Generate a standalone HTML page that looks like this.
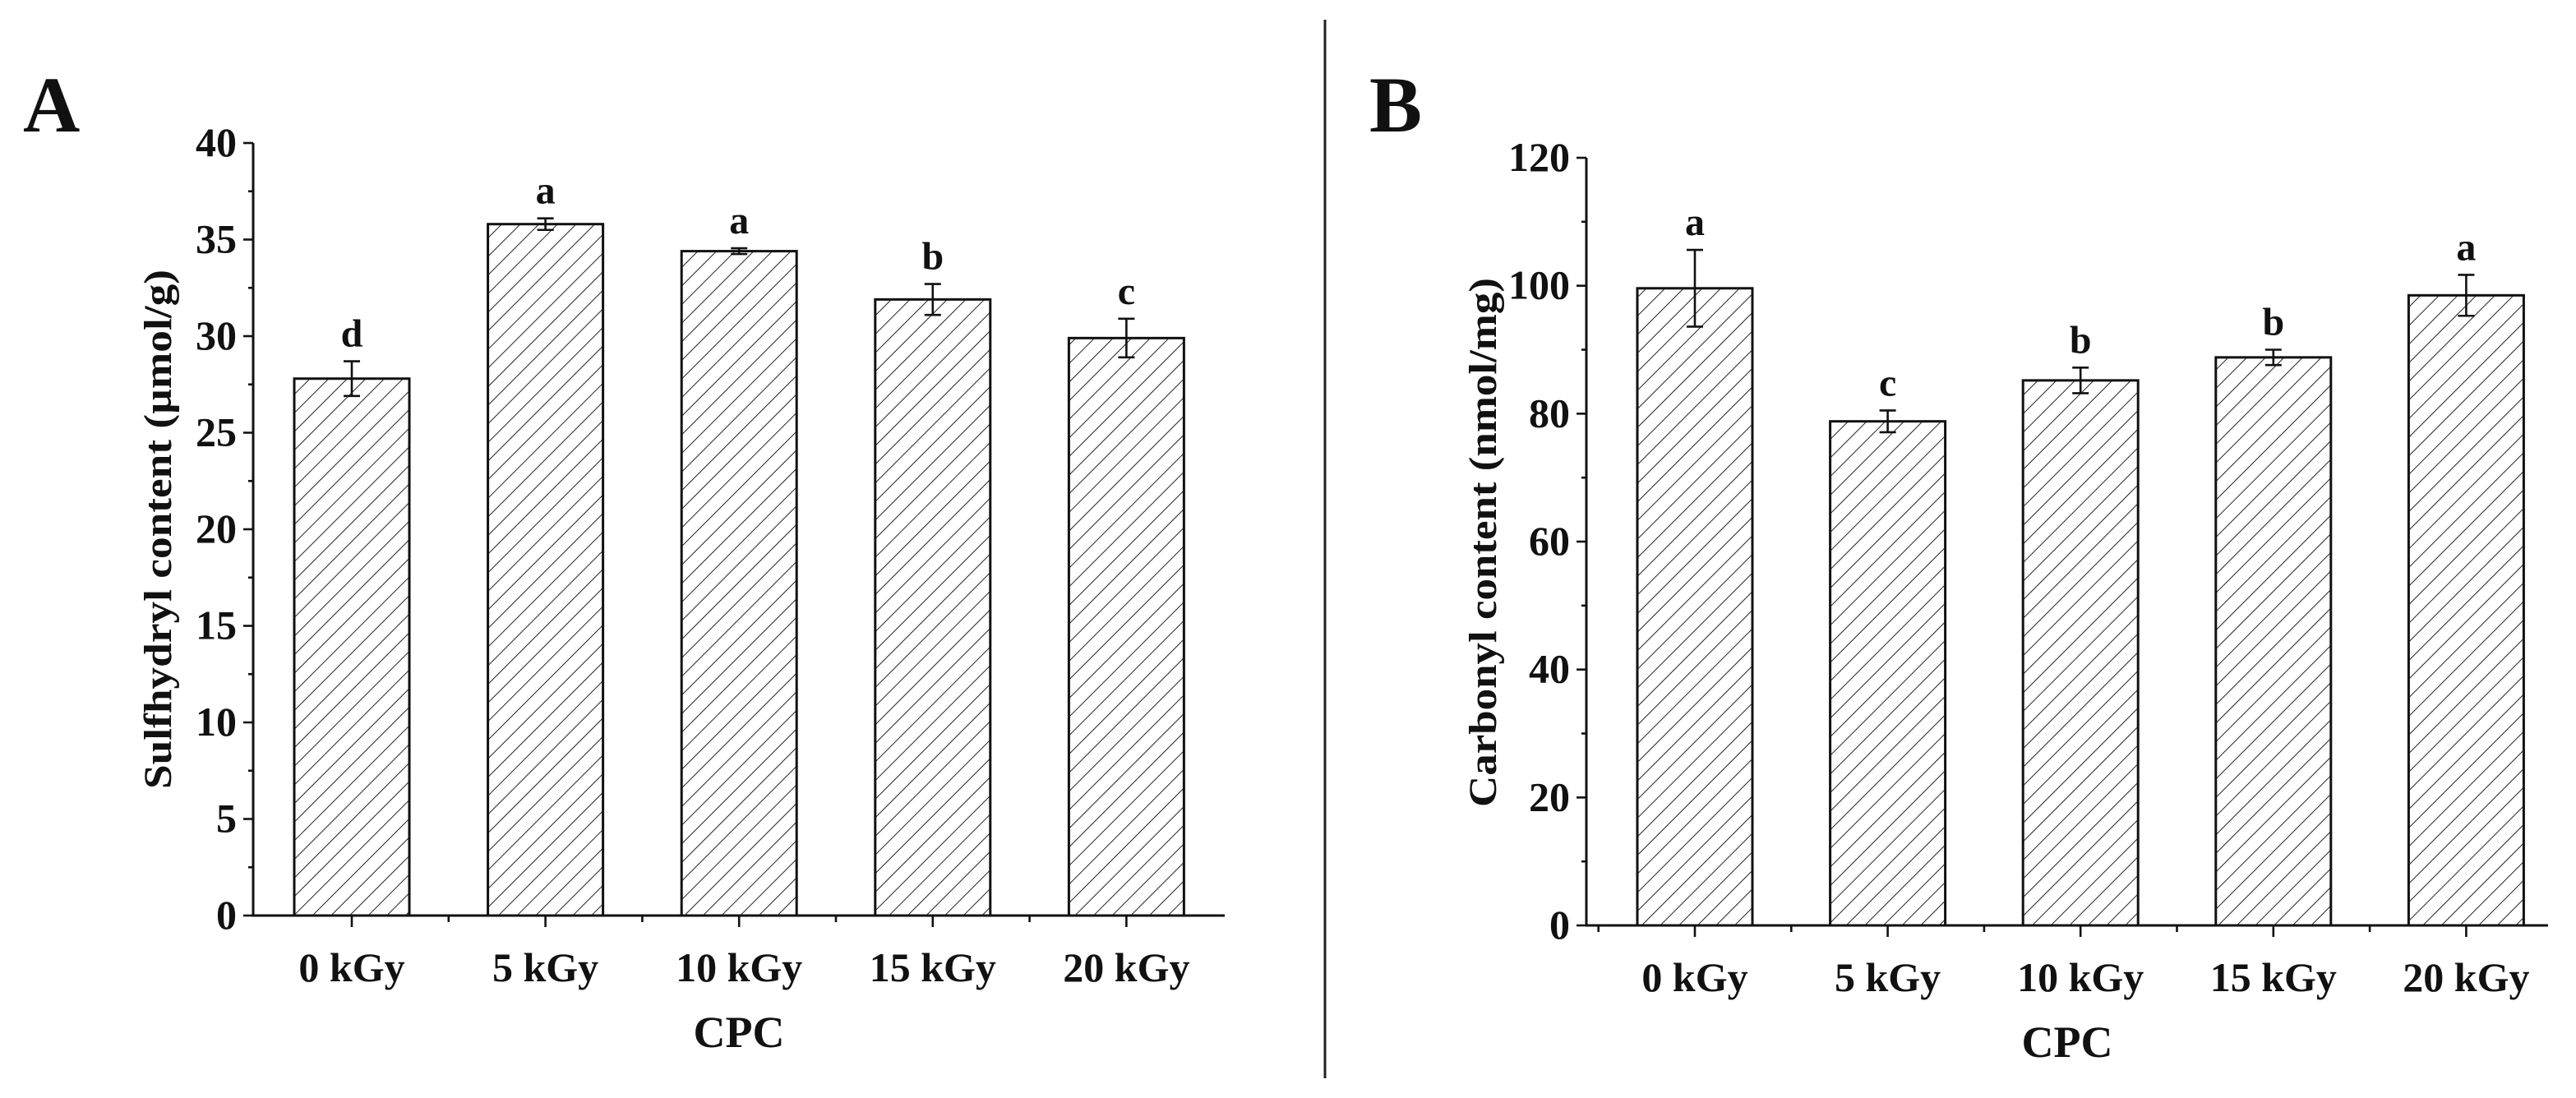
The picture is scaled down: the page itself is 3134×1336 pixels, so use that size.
<!DOCTYPE html>
<html><head><meta charset="utf-8"><style>
html,body{margin:0;padding:0;background:#fff;}
svg{display:block;}
text{font-family:"Liberation Serif",serif;font-weight:bold;fill:#111;}
</style></head><body>
<svg id="fig" width="3134" height="1336" viewBox="0 0 1567 668" xmlns="http://www.w3.org/2000/svg">
<defs>
<pattern id="hatch" patternUnits="userSpaceOnUse" width="8" height="8" patternTransform="rotate(45)">
<line x1="0" y1="0" x2="0" y2="8" stroke="#222" stroke-width="1"/>
</pattern>
</defs>
<line x1="806" y1="12" x2="806" y2="656" stroke="#222" stroke-width="1.5"/>
</svg>
<script>
const categories = ["0 kGy","5 kGy","10 kGy","15 kGy","20 kGy"];
const valuesA = [27.8, 35.8, 34.4, 31.9, 29.9];
const errorsA = [0.9, 0.3, 0.15, 0.8, 1.0];
const lettersA = ["d","a","a","b","c"];
const ticksA = [0,5,10,15,20,25,30,35,40];
const valuesB = [99.6, 78.8, 85.2, 88.8, 98.5];
const errorsB = [6.0, 1.7, 2.0, 1.2, 3.2];
const lettersB = ["a","c","b","b","a"];
const ticksB = [0,20,40,60,80,100,120];

const svg = document.getElementById('fig');
const NS = 'http://www.w3.org/2000/svg';
function mk(tag, attrs, parent){
  const e = document.createElementNS(NS, tag);
  for (const k in attrs) e.setAttribute(k, attrs[k]);
  (parent||svg).appendChild(e);
  return e;
}
function panel(p){
  const g = mk('g', {});
  
  
  const y = v => p.y0 - v / p.max * (p.y0 - p.yTop);
  const x = i => p.xc0 + i * p.step;
  const L = mk('text', {x:p.lx, y:p.ly, 'font-size':48}, g);
  L.textContent = p.letter;
  
  
  p.values.forEach((v,i)=>{
    const r = mk('rect', {x:x(i)-35, y:y(v), width:70, height:p.y0-y(v), fill:'url(#hatch)', stroke:'#111', 'stroke-width':1.5}, g);
    
    
    const e = p.errors[i];
    const eb = mk('path', {d:`M${x(i)},${y(v+e)}V${y(v-e)}M${x(i)-5},${y(v+e)}H${x(i)+5}M${x(i)-5},${y(v-e)}H${x(i)+5}`, stroke:'#111', 'stroke-width':1.3, fill:'none'}, g);
    
    
    const t = mk('text', {x:x(i), y:y(v+e)-9, 'font-size':24, 'text-anchor':'middle'}, g);
    t.textContent = p.letters[i];
    
    
    const xl = mk('text', {x:x(i), y:p.y0+40, 'font-size':25, 'text-anchor':'middle'}, g);
    xl.textContent = categories[i];
    
    
    mk('line', {x1:x(i), y1:p.y0, x2:x(i), y2:p.y0+7, stroke:'#111','stroke-width':1.3}, g);
    const mx = x(i)+p.step/2;
    if (mx < p.xEnd - 2) mk('line', {x1:mx, y1:p.y0, x2:mx, y2:p.y0+4, stroke:'#111','stroke-width':1.3}, g);
    const mx0 = x(i)-p.step/2;
    if (i===0 && mx0 > p.xAxis + 2) mk('line', {x1:mx0, y1:p.y0, x2:mx0, y2:p.y0+4, stroke:'#111','stroke-width':1.3}, g);
  });
  const ax = mk('path', {d:`M${p.xAxis},${p.yTop}V${p.y0}H${p.xEnd}`, stroke:'#111','stroke-width':1.5, fill:'none'}, g);
  
  
  p.ticks.forEach((t,i)=>{
    mk('line', {x1:p.xAxis-6, y1:y(t), x2:p.xAxis, y2:y(t), stroke:'#111','stroke-width':1.3}, g);
    if (i < p.ticks.length-1) {
      const m = (t + p.ticks[i+1]) / 2;
      mk('line', {x1:p.xAxis-3, y1:y(m), x2:p.xAxis, y2:y(m), stroke:'#111','stroke-width':1.3}, g);
    }
    const tl = mk('text', {x:p.xAxis-10, y:y(t)+8, 'font-size':25, 'text-anchor':'end'}, g);
    tl.textContent = t;
    
    
  });
  const yt = mk('text', {x:0, y:0, 'font-size':24, 'text-anchor':'middle', textLength:p.ylen, lengthAdjust:'spacingAndGlyphs', transform:`translate(${p.ylx},${p.ylc}) rotate(-90)`}, g);
  yt.textContent = p.ytitle;
  
  
  const xt = mk('text', {x:(p.xAxis+p.xEnd)/2, y:p.y0+80, 'font-size':27, 'text-anchor':'middle'}, g);
  xt.textContent = 'CPC';
  
  
}
panel({name:'chart-a', letter:'A', lx:14, ly:80, xAxis:154, xEnd:745, y0:557, yTop:87, max:40, xc0:214, step:117.8,
  values:valuesA, errors:errorsA, letters:lettersA, ticks:ticksA, ylx:104, ylc:322, ylen:316, ytitle:'Sulfhydryl content (µmol/g)'});
panel({name:'chart-b', letter:'B', lx:833, ly:80, xAxis:965, xEnd:1550, y0:563, yTop:96, max:120, xc0:1031, step:117.3,
  values:valuesB, errors:errorsB, letters:lettersB, ticks:ticksB, ylx:910, ylc:330, ylen:322, ytitle:'Carbonyl content (nmol/mg)'});
</script>
</body></html>
